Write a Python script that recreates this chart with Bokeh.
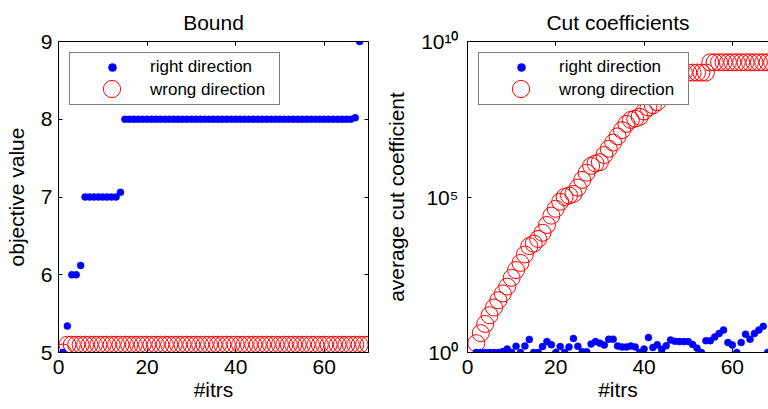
from bokeh.plotting import figure
from bokeh.models import (LinearAxis, FixedTicker, Legend, LegendItem, Range1d,
                          CustomJSTickFormatter)
from bokeh.layouts import row
from bokeh.embed import file_html
from bokeh.resources import INLINE
from bokeh.core.properties import value

FONT = "Liberation Sans"
BLUE = "#0000ff"
RED = "#ff0000"

# ---------------- data: "Bound" ----------------
bound_right_x = list(range(1, 69))
bound_right_y = [5.0, 5.34, 6.0, 6.0, 6.12,
                 7.0, 7.0, 7.0, 7.0, 7.0, 7.0, 7.0, 7.0, 7.06,
                 8.0, 8.0, 8.0, 8.0, 8.0, 8.0, 8.0, 8.0, 8.0, 8.0,
                 8.0, 8.0, 8.0, 8.0, 8.0, 8.0, 8.0, 8.0, 8.0, 8.0,
                 8.0, 8.0, 8.0, 8.0, 8.0, 8.0, 8.0, 8.0, 8.0, 8.0,
                 8.0, 8.0, 8.0, 8.0, 8.0, 8.0, 8.0, 8.0, 8.0, 8.0,
                 8.0, 8.0, 8.0, 8.0, 8.0, 8.0, 8.0, 8.0, 8.0, 8.0,
                 8.0, 8.0, 8.02, 9.0]
bound_wrong_x = list(range(1, 71))
bound_wrong_y = [5.0,
                 5.1, 5.1, 5.1, 5.1, 5.1, 5.1, 5.1, 5.1, 5.1, 5.1,
                 5.1, 5.1, 5.1, 5.1, 5.1, 5.1, 5.1, 5.1, 5.1, 5.1,
                 5.1, 5.1, 5.1, 5.1, 5.1, 5.1, 5.1, 5.1, 5.1, 5.1,
                 5.1, 5.1, 5.1, 5.1, 5.1, 5.1, 5.1, 5.1, 5.1, 5.1,
                 5.1, 5.1, 5.1, 5.1, 5.1, 5.1, 5.1, 5.1, 5.1, 5.1,
                 5.1, 5.1, 5.1, 5.1, 5.1, 5.1, 5.1, 5.1, 5.1, 5.1,
                 5.1, 5.1, 5.1, 5.1, 5.1, 5.1, 5.1, 5.1, 5.1]

# ---------------- data: "Cut coefficients" ----------------
cut_right_x = list(range(2, 69))
cut_right_y = [1.0, 1.0, 1.0, 1.0, 1.0, 1.0, 1.07, 1.29, 1.0, 1.58,
               1.0, 1.62, 2.63, 1.0, 1.0, 1.55, 2.24, 1.78, 1.0, 1.55,
               1.0, 1.51, 2.82, 1.58, 1.05, 1.05, 1.86, 2.24, 2.0, 1.74,
               2.69, 2.69, 1.62, 1.51, 1.51, 1.62, 1.51, 1.0, 1.29, 3.02,
               1.45, 1.78, 1.26, 1.66, 2.51, 2.29, 2.24, 2.24, 2.24, 1.82,
               1.38, 1.0, 2.4, 2.4, 3.16, 4.07, 5.25, 2.09, 1.74, 1.0,
               2.09, 3.89, 2.69, 4.07, 5.25, 6.92, 1.0]
cut_wrong_x = list(range(2, 71))
cut_wrong_y = [2.0, 4.2, 8.3, 15.8, 28, 48, 79, 132, 251, 447,
               759, 1413, 2630, 3162, 4467, 7079, 1.26e4, 2.51e4, 4.17e4, 7.08e4,
               1.0e5, 1.12e5, 1.26e5, 2.0e5, 3.55e5, 6.03e5, 1.0e6, 1.2e6, 1.32e6, 2.24e6,
               3.55e6, 5.62e6, 8.91e6, 1.41e7, 2.24e7, 3.02e7, 3.31e7, 3.8e7, 5.62e7, 7.59e7,
               8.91e7, 1.12e8, 2.0e8, 3.55e8, 6.31e8, 8.91e8, 9.33e8, 1.0e9, 1.0e9, 1.0e9,
               1.0e9, 1.0e9, 1.0e9, 2.14e9, 2.14e9, 2.14e9, 2.14e9, 2.14e9, 2.14e9, 2.14e9,
               2.14e9, 2.14e9, 2.14e9, 2.14e9, 2.14e9, 2.14e9, 2.14e9, 2.14e9, 2.14e9]

x_ticks = [0, 20, 40, 60]
bound_y_ticks = [5, 6, 7, 8, 9]
cut_y_ticks = [1.0, 1e5, 1e10]
cut_y_tick_labels = ["10\u2070", "10\u2075", "10\u00b9\u2070"]

legend_labels = ["right direction", "wrong direction"]

H = 409
TOP = 41
BOTTOM = 57
FRAME_H = H - TOP - BOTTOM


def style_axis(ax, ticks, labels=True):
    ax.ticker = FixedTicker(ticks=ticks)
    ax.major_tick_in = 4
    ax.major_tick_out = 0
    ax.minor_tick_in = 0
    ax.minor_tick_out = 0
    ax.axis_line_color = "black"
    ax.major_tick_line_color = "black"
    ax.major_label_text_color = "black"
    ax.major_label_text_font = FONT
    ax.axis_label_text_font = FONT
    ax.axis_label_text_font_size = "21px"
    ax.axis_label_text_font_style = "normal"
    ax.axis_label_text_color = "black"
    if labels:
        ax.major_label_text_font_size = "21px"
    else:
        ax.major_label_text_font_size = "0px"
        ax.major_label_standoff = 0
        ax.formatter = CustomJSTickFormatter(code="return ''")


def add_legends(p, r_blue, r_red):
    dummy = p.scatter(x=[], y=[], marker="circle", size=1,
                      fill_alpha=0, line_alpha=0)
    leg_a = Legend(items=[LegendItem(label=value(legend_labels[0]), renderers=[r_blue]),
                          LegendItem(label=value(legend_labels[1]), renderers=[dummy])],
                   location="top_left", margin=11, padding=4, spacing=3,
                   glyph_width=76, glyph_height=20, label_height=20,
                   label_width=125, label_standoff=0,
                   label_text_font=FONT, label_text_font_size="17px",
                   label_text_color="black",
                   border_line_color="black", border_line_width=1,
                   background_fill_color="white", background_fill_alpha=1.0)
    leg_b = Legend(items=[LegendItem(label=value(""), renderers=[r_red])],
                   location=(31.5, FRAME_H - 69), margin=0, padding=0, spacing=0,
                   glyph_width=43, glyph_height=43, label_height=0,
                   label_width=0, label_standoff=0,
                   label_text_font=FONT, label_text_font_size="1px",
                   border_line_color=None, background_fill_alpha=0.0)
    p.add_layout(leg_a)
    p.add_layout(leg_b)


def base_fig(title, width, mbl, mbr, x_end, y_range, y_type):
    p = figure(width=width, height=H, output_backend="svg", toolbar_location=None,
               x_range=Range1d(0, x_end), y_range=y_range, y_axis_type=y_type,
               min_border_left=mbl, min_border_right=mbr,
               min_border_top=TOP, min_border_bottom=BOTTOM,
               background_fill_color="white", border_fill_color="white",
               outline_line_color=None)
    p.grid.visible = False
    p.title.text = title
    p.title.text_font = FONT
    p.title.text_font_size = "21px"
    p.title.text_font_style = "normal"
    p.title.text_color = "black"
    p.title.standoff = 16
    p.title.align = "center"
    return p


# ---------------- left: Bound ----------------
p1 = base_fig("Bound", 382, 58, 14, 70, Range1d(5, 9), "linear")
r1_red = p1.scatter(bound_wrong_x, bound_wrong_y, marker="circle", size=17,
                    fill_color=None, line_color=RED, line_width=1)
r1_blue = p1.scatter(bound_right_x, bound_right_y, marker="circle", size=7,
                     fill_color=BLUE, line_color=BLUE, line_width=0.5)
style_axis(p1.xaxis[0], x_ticks)
style_axis(p1.yaxis[0], bound_y_ticks)
p1.xaxis[0].axis_label = "#itrs"
p1.xaxis[0].major_label_standoff = 7
p1.xaxis[0].axis_label_standoff = 1
p1.yaxis[0].axis_label = "objective value"
p1.yaxis[0].major_label_standoff = 6
p1.yaxis[0].axis_label_standoff = 10
top1 = LinearAxis()
style_axis(top1, x_ticks, labels=False)
p1.add_layout(top1, "above")
right1 = LinearAxis()
style_axis(right1, bound_y_ticks, labels=False)
p1.add_layout(right1, "right")
add_legends(p1, r1_blue, r1_red)

# ---------------- right: Cut coefficients ----------------
p2 = base_fig("Cut coefficients", 386, 84, 0, 68.19, Range1d(1.0, 1e10), "log")
r2_red = p2.scatter(cut_wrong_x, cut_wrong_y, marker="circle", size=17,
                    fill_color=None, line_color=RED, line_width=1)
r2_blue = p2.scatter(cut_right_x, cut_right_y, marker="circle", size=7,
                     fill_color=BLUE, line_color=BLUE, line_width=0.5)
style_axis(p2.xaxis[0], x_ticks)
style_axis(p2.yaxis[0], cut_y_ticks)
p2.yaxis[0].major_label_overrides = dict(zip(cut_y_ticks, cut_y_tick_labels))
p2.xaxis[0].axis_label = "#itrs"
p2.xaxis[0].major_label_standoff = 7
p2.xaxis[0].axis_label_standoff = 1
p2.yaxis[0].axis_label = "average cut coefficient"
p2.yaxis[0].major_label_standoff = 9
p2.yaxis[0].axis_label_standoff = 10
top2 = LinearAxis()
style_axis(top2, x_ticks, labels=False)
p2.add_layout(top2, "above")
add_legends(p2, r2_blue, r2_red)

layout = row(p1, p2)
open("out.html", "w").write(file_html(layout, INLINE))
